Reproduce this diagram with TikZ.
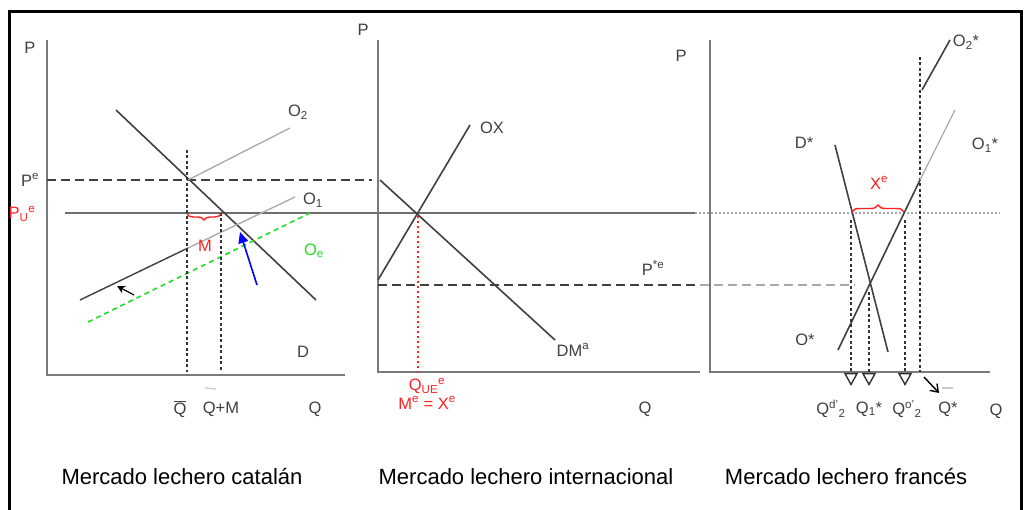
\documentclass[tikz,border=0pt]{standalone}
\usepackage{fontspec}
\setmainfont{Liberation Sans}
\usetikzlibrary{arrows.meta,decorations.pathreplacing}
\definecolor{axisgray}{HTML}{7A7A7A}
\definecolor{linegray}{HTML}{404040}
\definecolor{lightline}{HTML}{A8A8A8}
\definecolor{lblred}{HTML}{FF2020}
\definecolor{lblgreen}{HTML}{22DD22}
\begin{document}
\begin{tikzpicture}[x=1pt,y=-1pt,
  lbl/.style={font=\fontsize{16.5}{18}\selectfont, text=black!75, inner sep=0pt},
  redlbl/.style={lbl, text=lblred},
  captext/.style={font=\fontsize{22}{25}\selectfont, inner sep=0pt},
  axis/.style={draw=axisgray, line width=2.8pt},
  curve/.style={draw=linegray, line width=1.6pt},
  thin/.style={draw=lightline, line width=1.3pt},
  guide/.style={draw=black!80, line width=1.4pt, dash pattern=on 3pt off 2.5pt},
  pdash/.style={draw=black!75, line width=1.5pt, dash pattern=on 9pt off 5pt},
  openarrow/.style={-{Triangle[open,length=13pt,width=14pt,line width=1.4pt]}},
]
\useasboundingbox (0,0) rectangle (1026,510);
\fill[white] (0,0) rectangle (1026,510);
% frame
\draw[line width=3pt] (9,515) -- (9,12) -- (1021,12) -- (1021,515);

% ================= Left panel =================
\draw[axis] (47,40) -- (47,375) -- (345,375);
\draw[pdash] (47,180) -- (372,180);
\draw[draw=axisgray!90!black, line width=2.6pt] (65,213) -- (695,213);
\draw[curve] (116,110) -- (316,300);
\draw[thin] (188,180) -- (290,128);
\draw[curve, line width=1.4pt] (80,300) -- (188,248);
\draw[thin] (188,248) -- (295,197);
\draw[draw=lblgreen, line width=1.6pt, dash pattern=on 5pt off 4pt] (88,322) -- (310,213);
\draw[guide] (187,150) -- (187,372);
\draw[guide] (221,213) -- (221,372);
\draw[lblred, line width=1.4pt, decorate, decoration={brace, mirror, amplitude=6pt}] (187,214) -- (221,214);
\draw[blue, line width=1.6pt, -{Triangle[length=11pt,width=10pt]}] (257,285) -- (240,232);
\draw[black, line width=1.2pt, -{Stealth[length=8pt,width=8pt]}] (134,295) -- (117,286);
\draw[draw=lightline!60, line width=1.2pt] (205,388) -- (216,389);

\node[lbl] (pL) at (30,48) {P};
\node[lbl] (peL) at (30,180) {P\textsuperscript{e}};
\node[redlbl] (pue) at (22,214) {P\textsubscript{U}\textsuperscript{e}};
\node[lbl] (o2) at (298,112) {O\textsubscript{2}};
\node[lbl] (o1) at (313,200) {O\textsubscript{1}};
\node[redlbl] (m) at (205,246) {M};
\node[lbl, text=lblgreen] (oe) at (314,251) {O\textsubscript{e}};
\node[lbl] (dL) at (303,352) {D};
\node[lbl] (qbar) at (180,409) {$\overline{\mbox{Q}}$};
\node[lbl] (qm) at (221,409) {Q+M};
\node[lbl] (qL) at (315,409) {Q};
\node[captext] (capL) at (182,477) {Mercado lechero catalán};

% ================= Middle panel =================
\draw[axis] (378,40) -- (378,372) -- (700,372);
\draw[curve] (378,280) -- (470,125);
\draw[curve] (380,180) -- (555,340);
\draw[draw=lblred, line width=1.3pt, dash pattern=on 2pt off 3pt] (418,216) -- (418,372);
\draw[pdash] (378,285) -- (700,285);
\draw[pdash, draw=lightline] (700,285) -- (855,285);

\node[lbl] (pM) at (363,30) {P};
\node[lbl] (ox) at (492,128) {OX};
\node[lbl] (dm) at (573,350) {DM\textsuperscript{a}};
\node[lbl] (pstar) at (653,268) {P\textsuperscript{*e}};
\node[lbl] (qM) at (645,409) {Q};
\node[redlbl] (que) at (427,386) {Q\textsubscript{UE}\textsuperscript{e}};
\node[redlbl] (mx) at (427,403) {M\textsuperscript{e} = X\textsuperscript{e}};
\node[captext] (capM) at (526,477) {Mercado lechero internacional};

% ================= Right panel =================
\draw[axis] (710,40) -- (710,372) -- (990,372);
\draw[draw=lightline, line width=1.6pt, dash pattern=on 2pt off 2pt] (695,213) -- (1000,213);
\draw[guide] (920,57) -- (920,372);
\draw[curve] (835,145) -- (888,352);
\draw[curve] (838,350) -- (920,180);
\draw[thin] (920,180) -- (955,110);
\draw[curve] (922,90) -- (950,40);
\draw[lblred, line width=1.4pt, decorate, decoration={brace, amplitude=7pt}] (852,212) -- (904,212);
\draw[guide, openarrow] (851,220) -- (851,386);
\draw[guide, openarrow] (869,292) -- (869,386);
\draw[guide, openarrow] (905,220) -- (905,386);
\draw[black, line width=1.4pt, -{Straight Barb[length=7pt,width=10pt]}] (924,377) -- (939,393);
\draw[draw=lightline!60, line width=1.2pt] (942,388) -- (953,388);

\node[lbl] (pR) at (681,56) {P};
\node[lbl] (dstar) at (804,143) {D*};
\node[lbl] (ostar) at (805,340) {O*};
\node[lbl] (o1star) at (985,145) {O\textsubscript{1}*};
\node[lbl] (o2star) at (966,42) {O\textsubscript{2}*};
\node[redlbl] (xe) at (879,183) {X\textsuperscript{e}};
\node[lbl] (qd2) at (831,409) {Q\textsuperscript{d'}\textsubscript{2}};
\node[lbl] (q1s) at (869,409) {Q\textsubscript{1}*};
\node[lbl] (qo2) at (907,409) {Q\textsuperscript{o'}\textsubscript{2}};
\node[lbl] (qs) at (948,409) {Q*};
\node[lbl] (qR) at (996,411) {Q};
\node[captext] (capR) at (846,477) {Mercado lechero francés};
\end{tikzpicture}
\end{document}
